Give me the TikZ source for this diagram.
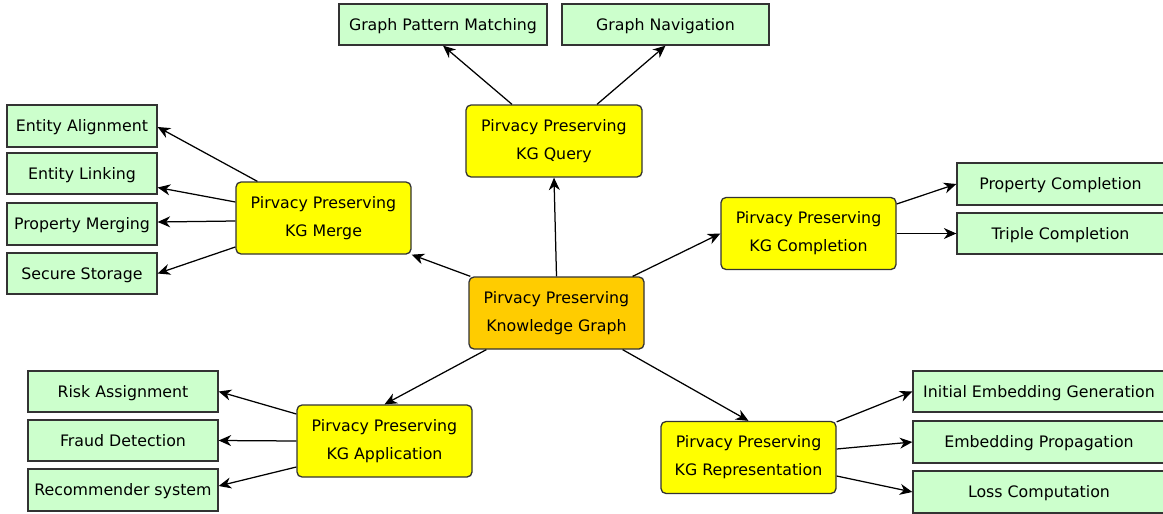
\documentclass[tikz,border=0pt]{standalone}
\usepackage{fontspec}
\setmainfont{DejaVu Sans}
\usetikzlibrary{arrows.meta}
\definecolor{leafgreen}{HTML}{CCFFCC}
\definecolor{hubyellow}{HTML}{FFFF00}
\definecolor{coreorange}{HTML}{FFCC00}
\definecolor{edgegray}{HTML}{333333}
\tikzset{
  base/.style={draw=edgegray, line width=1.3pt, inner sep=0pt, align=center,
    font={\fontsize{15.8pt}{28pt}\selectfont}},
  leaf/.style={base, fill=leafgreen, minimum height=41pt, text height=14pt, text depth=2.4pt},
  hub/.style={base, fill=hubyellow, rounded corners=5pt, minimum width=175pt, minimum height=72pt},
  core/.style={hub, fill=coreorange},
  arr/.style={line width=1.25pt, -{Stealth[length=12.5pt,width=11pt,inset=4pt]}}
}
\begin{document}
\begin{tikzpicture}[x=1pt,y=-1pt]
\clip (0,0) rectangle (1163,514);
\fill[white] (0,0) rectangle (1163,514);

% hubs
\node[core] (kg) at (556.5,313) {Pirvacy Preserving\\Knowledge Graph};
\node[hub, minimum width=176pt] (query) at (554,141) {Pirvacy Preserving\\KG Query};
\node[hub] (merge) at (323.5,218) {Pirvacy Preserving\\KG Merge};
\node[hub] (compl) at (808.5,233.5) {Pirvacy Preserving\\KG Completion};
\node[hub] (repr) at (748.5,457.5) {Pirvacy Preserving\\KG Representation};
\node[hub] (appl) at (384.5,441) {Pirvacy Preserving\\KG Application};

% leaves
\node[leaf, minimum width=208pt] (gpm) at (443,24.5) {Graph Pattern Matching};
\node[leaf, minimum width=207pt] (gn) at (665.5,24.5) {Graph Navigation};

\node[leaf, minimum width=150pt, minimum height=42pt] (ea) at (82,126) {Entity Alignment};
\node[leaf, minimum width=150pt] (el) at (82,173.5) {Entity Linking};
\node[leaf, minimum width=150pt, minimum height=42pt] (pm) at (82,224) {Property Merging};
\node[leaf, minimum width=150pt] (ss) at (82,273.5) {Secure Storage};

\node[leaf, minimum width=207pt, minimum height=42pt] (pc) at (1060.5,184) {Property Completion};
\node[leaf, minimum width=207pt] (tc) at (1060.5,233.5) {Triple Completion};

\node[leaf, minimum width=252pt] (ieg) at (1039,391.5) {Initial Embedding Generation};
\node[leaf, minimum width=252pt, minimum height=42pt] (ep) at (1039,442) {Embedding Propagation};
\node[leaf, minimum width=252pt, minimum height=42pt] (lc) at (1039,492) {Loss Computation};

\node[leaf, minimum width=190pt] (ra) at (123,391.5) {Risk Assignment};
\node[leaf, minimum width=190pt] (fd) at (123,440.5) {Fraud Detection};
\node[leaf, minimum width=190pt, minimum height=42pt] (rs) at (123,490) {Recommender system};

% core connectors
\draw[arr] (kg.north) -- (query.south);
\draw[arr] ([xshift=2pt]kg.north west) -- (merge.south east);
\draw[arr] ([xshift=-12pt]kg.north east) -- (compl.west);
\draw[arr] ([xshift=-22pt]kg.south east) -- (repr.north);
\draw[arr] ([xshift=18pt]kg.south west) -- (appl.north);

% query leaves
\draw[arr] ([xshift=-42pt]query.north) -- (gpm.south);
\draw[arr] ([xshift=43pt]query.north) -- (gn.south);

% merge leaves
\draw[arr] ([xshift=22pt]merge.north west) -- ([yshift=-1pt]ea.east);
\draw[arr] ([yshift=16pt]merge.west) -- ([yshift=-14pt]el.east);
\draw[arr] ([yshift=-3pt]merge.west) -- ([yshift=2pt]pm.east);
\draw[arr] ([yshift=-29pt]merge.west) -- (ss.east);

% completion leaves
\draw[arr] ([yshift=29.5pt]compl.east) -- (pc.west);
\draw[arr] (compl.east) -- (tc.west);

% representation leaves
\draw[arr] ([yshift=-1pt]repr.north east) -- (ieg.west);
\draw[arr] ([yshift=8.5pt]repr.east) -- (ep.west);
\draw[arr] ([yshift=-18.5pt]repr.east) -- (lc.west);

% application leaves
\draw[arr] ([yshift=27pt]appl.west) -- (ra.east);
\draw[arr] (appl.west) -- (fd.east);
\draw[arr] ([yshift=-26pt]appl.west) -- ([yshift=4pt]rs.east);
\end{tikzpicture}
\end{document}
